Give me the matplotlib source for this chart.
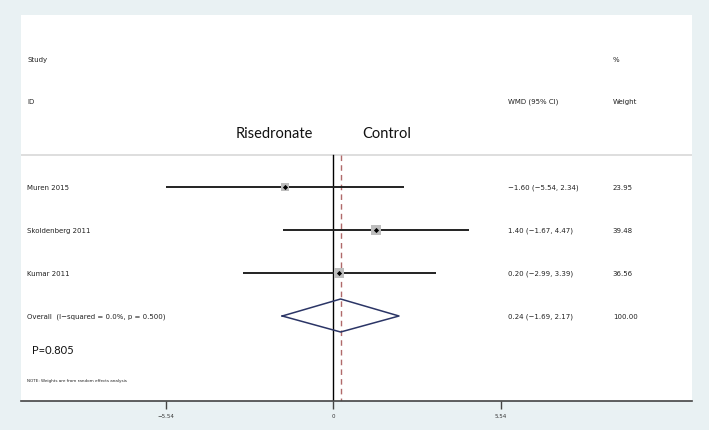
import numpy as np
import matplotlib
matplotlib.use("Agg")
import matplotlib.pyplot as plt

studies = ["Muren 2015", "Skoldenberg 2011", "Kumar 2011"]
wmd = [-1.60, 1.40, 0.20]
lo = [-5.54, -1.67, -2.99]
hi = [2.34, 4.47, 3.39]
weights = [23.95, 39.48, 36.56]
ci_text = ["\u22121.60 (\u22125.54, 2.34)", "1.40 (\u22121.67, 4.47)", "0.20 (\u22122.99, 3.39)"]
weight_text = ["23.95", "39.48", "36.56"]

overall_label = "Overall  (I\u2212squared = 0.0%, p = 0.500)"
overall_est = 0.24
overall_lo = -1.69
overall_hi = 2.17
overall_ci_text = "0.24 (\u22121.69, 2.17)"

xticks = [-5.54, 0, 5.54]
xtick_labels = ["\u22125.54", "0", "5.54"]

# row positions (pixel rows of the panel, top = 16)
row_y = [188, 231, 274]
overall_y = 317

bg = "#e9f1f3"
fig = plt.figure(figsize=(7.09, 4.31), dpi=100)
fig.set_facecolor(bg)
ax = fig.add_axes([21 / 709, 29 / 431, 671 / 709, 386 / 431])
ax.set_facecolor("white")
ax.set_xlim(-10.33, 11.86)
ax.set_ylim(402, 16)
for s in ["top", "right", "left"]:
    ax.spines[s].set_visible(False)
ax.spines["bottom"].set_color("#444444")
ax.spines["bottom"].set_linewidth(1.2)
ax.set_yticks([])
ax.set_xticks(xticks)
ax.set_xticklabels(xtick_labels, fontsize=4, family="Liberation Sans Narrow", color="#333333")
ax.tick_params(axis="x", length=6, width=1, color="#444444", pad=3)

small = dict(fontsize=5.0, family="Liberation Sans Narrow", color="#222222", va="center")
x_lab = -10.12
x_ci = 5.77
x_w = 9.24

# header
ax.text(x_lab, 60, "Study", **small)
ax.text(x_w, 60, "%", **small)
ax.text(x_lab, 102, "ID", **small)
ax.text(x_ci, 102, "WMD (95% CI)", **small)
ax.text(x_w, 102, "Weight", **small)
ax.text(-1.95, 134, "Risedronate", fontsize=10.5, family="Lato", ha="center", va="center", color="#111111")
ax.text(1.75, 134, "Control", fontsize=10.5, family="Lato", ha="center", va="center", color="#111111")
ax.axhline(156, color="#d8d8d8", lw=1.2)

# reference lines
ax.plot([0, 0], [156, 402], color="black", lw=1.0)
ax.plot([overall_est, overall_est], [156, 402], color="#b06a6a", lw=1.0, ls=(0, (4, 3)))

# studies
for i in range(len(studies)):
    y = row_y[i]
    ax.plot([lo[i], hi[i]], [y, y], color="#222222", lw=1.4, solid_capstyle="butt")
    side = 7 * np.sqrt(weights[i] / 39.48)
    ax.scatter([wmd[i]], [y], s=side ** 2, marker="s", color="#bdbdbd", zorder=3, lw=0)
    ax.scatter([wmd[i]], [y], s=7, marker="D", color="black", zorder=4, lw=0)
    ax.text(x_lab, y, studies[i], **small)
    ax.text(x_ci, y, ci_text[i], **small)
    ax.text(x_w, y, weight_text[i], **small)

# overall diamond
dx = [overall_lo, overall_est, overall_hi, overall_est, overall_lo]
dy = [overall_y, overall_y - 17, overall_y, overall_y + 16, overall_y]
ax.plot(dx, dy, color="#2b3566", lw=1.1)
ax.text(x_lab, overall_y, overall_label, **small)
ax.text(x_ci, overall_y, overall_ci_text, **small)
ax.text(x_w, overall_y, "100.00", **small)

ax.text(-9.95, 351, "P=0.805", fontsize=8, family="Lato", va="center", color="#111111")
ax.text(x_lab, 381, "NOTE: Weights are from random effects analysis", fontsize=3.0,
        family="Liberation Sans Narrow", va="center", color="#222222")

fig.savefig("out.png", dpi=100, facecolor=bg)
